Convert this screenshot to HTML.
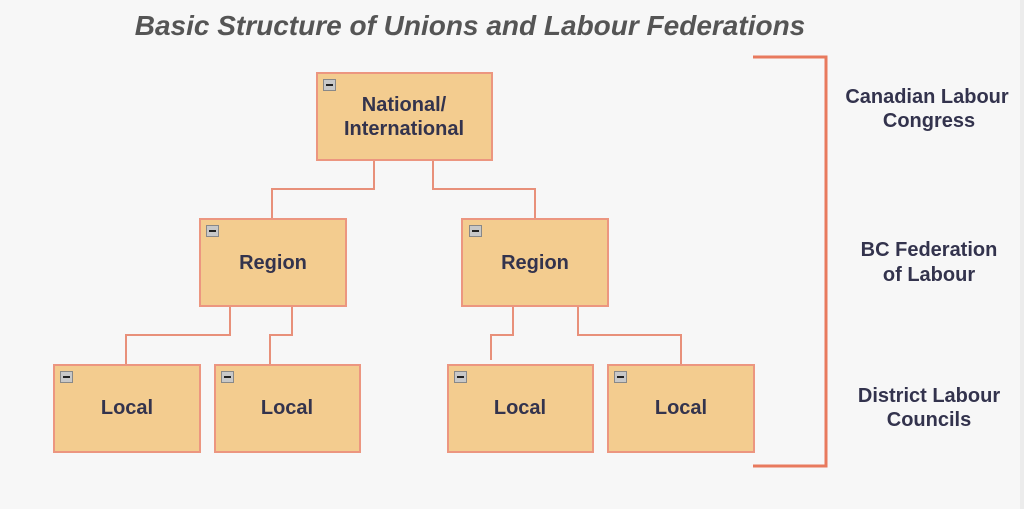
<!DOCTYPE html>
<html><head><meta charset="utf-8"><style>
html,body{margin:0;padding:0;background:#f7f7f7;}
svg{display:block}
text{font-family:"Liberation Sans",Arial,sans-serif;font-weight:bold;}
</style></head><body>
<svg width="1024" height="509" viewBox="0 0 1024 509" xmlns="http://www.w3.org/2000/svg">
<rect width="1024" height="509" fill="#f7f7f7"/>
<rect x="1020" y="0" width="4" height="509" fill="#ececec"/>
<text x="470" y="35" text-anchor="middle" font-size="28" font-style="italic" fill="#555">Basic Structure of Unions and Labour Federations</text>
<g fill="none" stroke="#e8907a" stroke-width="2">
<polyline points="374,160 374,189 272,189 272,218"/>
<polyline points="433,160 433,189 535,189 535,218"/>
<polyline points="230,306 230,335 126,335 126,364"/>
<polyline points="292,306 292,335 270,335 270,364"/>
<polyline points="513,306 513,335 491,335 491,360"/>
<polyline points="578,306 578,335 681,335 681,364"/>
</g>
<polyline points="753,57 826,57 826,466 753,466" fill="none" stroke="#e87a5e" stroke-width="3"/>
<g fill="#f3cc8f" stroke="#ec9680" stroke-width="2">
<rect x="317" y="73" width="175" height="87"/>
<rect x="200" y="219" width="146" height="87"/>
<rect x="462" y="219" width="146" height="87"/>
<rect x="54" y="365" width="146" height="87"/>
<rect x="215" y="365" width="145" height="87"/>
<rect x="448" y="365" width="145" height="87"/>
<rect x="608" y="365" width="146" height="87"/>
</g>
<g fill="#c8c8c8" stroke="#888" stroke-width="1">
<rect x="323.5" y="79.5" width="12" height="11"/>
<rect x="206.5" y="225.5" width="12" height="11"/>
<rect x="469.5" y="225.5" width="12" height="11"/>
<rect x="60.5" y="371.5" width="12" height="11"/>
<rect x="221.5" y="371.5" width="12" height="11"/>
<rect x="454.5" y="371.5" width="12" height="11"/>
<rect x="614.5" y="371.5" width="12" height="11"/>
</g>
<g stroke="#222" stroke-width="2">
<line x1="326" y1="85" x2="333" y2="85"/>
<line x1="209" y1="231" x2="216" y2="231"/>
<line x1="472" y1="231" x2="479" y2="231"/>
<line x1="63" y1="377" x2="70" y2="377"/>
<line x1="224" y1="377" x2="231" y2="377"/>
<line x1="457" y1="377" x2="464" y2="377"/>
<line x1="617" y1="377" x2="624" y2="377"/>
</g>
<g font-size="20" fill="#33334d" text-anchor="middle">
<text x="404" y="111">National/</text>
<text x="404" y="135">International</text>
<text x="273" y="269">Region</text>
<text x="535" y="269">Region</text>
<text x="127" y="414">Local</text>
<text x="287" y="414">Local</text>
<text x="520" y="414">Local</text>
<text x="681" y="414">Local</text>
<text x="927" y="103">Canadian Labour</text>
<text x="929" y="127">Congress</text>
<text x="929" y="256">BC Federation</text>
<text x="929" y="281">of Labour</text>
<text x="929" y="402">District Labour</text>
<text x="929" y="426">Councils</text>
</g>
</svg>
</body></html>
